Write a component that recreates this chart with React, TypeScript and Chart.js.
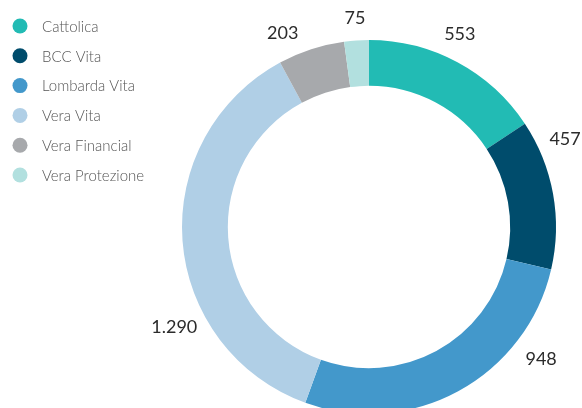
import React, { useEffect, useRef } from "react";
import { Chart, registerables } from "chart.js";

Chart.register(...registerables);

const categories = ["Cattolica", "BCC Vita", "Lombarda Vita", "Vera Vita", "Vera Financial", "Vera Protezione"];
const values = [553, 457, 948, 1290, 203, 75];
const colors = ["#22BBB4", "#004C6C", "#4398CB", "#B0CFE6", "#A7A9AC", "#B2E0DF"];

const fmt = (v: number) => String(v).replace(/\B(?=(\d{3})+(?!\d))/g, ".");

const labelPlugin = {
  id: "donutLabels",
  afterDatasetsDraw(chart: any, _args: any, opts: any) {
    const ctx = chart.ctx;
    const meta = chart.getDatasetMeta(0);
    ctx.save();
    ctx.font = "18px Lato";
    ctx.fillStyle = "#2b2b2b";
    ctx.textAlign = "center";
    ctx.textBaseline = "middle";
    meta.data.forEach((arc: any, i: number) => {
      const { x, y, startAngle, endAngle, outerRadius } = arc.getProps(["x", "y", "startAngle", "endAngle", "outerRadius"], true);
      const mid = (startAngle + endAngle) / 2 + (opts.angleShift[i] * Math.PI) / 180;
      const r = outerRadius + opts.gap[i];
      ctx.fillText(fmt(values[i]), x + Math.cos(mid) * r, y + Math.sin(mid) * r);
    });
    ctx.restore();
  },
};

const legendPlugin = {
  id: "sideLegend",
  afterDraw(chart: any, _args: any, opts: any) {
    const ctx = chart.ctx;
    ctx.save();
    ctx.font = "300 15px Lato";
    ctx.textBaseline = "middle";
    ctx.textAlign = "left";
    categories.forEach((c, i) => {
      const cy = opts.top + i * opts.step;
      ctx.beginPath();
      ctx.arc(opts.left, cy, 7.5, 0, Math.PI * 2);
      ctx.fillStyle = colors[i];
      ctx.fill();
      ctx.fillStyle = "#555555";
      ctx.fillText(c, opts.left + 22, cy + 1);
    });
    ctx.restore();
  },
};

export default function App() {
  const ref = useRef<HTMLCanvasElement>(null);
  useEffect(() => {
    if (!ref.current) return;
    const chart = new Chart(ref.current, {
      type: "doughnut",
      data: {
        labels: categories,
        datasets: [
          {
            data: values,
            backgroundColor: colors,
            borderWidth: 0,
            hoverOffset: 0,
            offset: 0,
          },
        ],
      },
      options: {
        responsive: false,
        devicePixelRatio: 1,
        animation: false,
        cutout: "75.5%",
        rotation: 0,
        layout: { padding: { left: 182, right: 26, top: 40, bottom: 26 } },
        plugins: {
          legend: { display: false },
          tooltip: { enabled: false },
          donutLabels: { angleShift: [-3, -14, -24, -23, -6, 0], gap: [26, 28, 30, 32, 25, 22] },
          sideLegend: { left: 20, top: 26, step: 29.8 },
        } as any,
      },
      plugins: [labelPlugin, legendPlugin],
    });
    return () => chart.destroy();
  }, []);
  return (
    <div style={{ position: "fixed", left: 0, top: 0, width: 582, height: 440, background: "#fff" }}>
      <canvas ref={ref} width={582} height={440} style={{ display: "block" }} />
    </div>
  );
}
